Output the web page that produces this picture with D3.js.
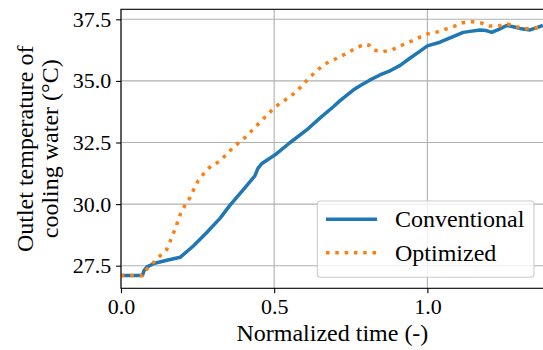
<!DOCTYPE html>
<meta charset="utf-8">
<style>
    body { margin: 0; background: #fff; }
    svg text { font-family: 'Liberation Serif', 'Times New Roman', serif; fill: #000; }
</style>
<svg width="543" height="350"></svg>
<script src="https://cdn.jsdelivr.net/npm/d3@7"></script>
<script>
    // values
    var convX = [0, 0.07, 0.075, 0.085, 0.11, 0.15, 0.193, 0.236, 0.28, 0.323, 0.356, 0.40, 0.437, 0.447, 0.46, 0.503, 0.55, 0.606, 0.65, 0.693, 0.715, 0.758, 0.78, 0.813, 0.845, 0.88, 0.911, 0.943, 0.975, 1.0, 1.041, 1.08, 1.117, 1.145, 1.172, 1.19, 1.21, 1.235, 1.259, 1.28, 1.302, 1.335, 1.355, 1.377];
    var convY = [27.1, 27.1, 27.3, 27.45, 27.6, 27.72, 27.84, 28.3, 28.85, 29.42, 29.96, 30.6, 31.15, 31.45, 31.65, 32.0, 32.48, 33.01, 33.5, 33.95, 34.2, 34.63, 34.8, 35.04, 35.24, 35.42, 35.63, 35.92, 36.2, 36.42, 36.57, 36.78, 36.97, 37.02, 37.07, 37.05, 36.97, 37.1, 37.25, 37.2, 37.13, 37.07, 37.15, 37.25];

    var optX = [0, 0.07, 0.075, 0.085, 0.105, 0.127, 0.149, 0.162, 0.173, 0.184, 0.195, 0.209, 0.225, 0.238, 0.252, 0.271, 0.294, 0.320, 0.342, 0.363, 0.386, 0.41, 0.432, 0.454, 0.476, 0.497, 0.522, 0.548, 0.571, 0.593, 0.614, 0.636, 0.66, 0.688, 0.715, 0.742, 0.769, 0.796, 0.81, 0.824, 0.854, 0.883, 0.911, 0.94, 0.968, 0.998, 1.028, 1.057, 1.085, 1.115, 1.145, 1.174, 1.202, 1.231, 1.261, 1.291, 1.321, 1.35, 1.377];
    var optY = [27.1, 27.1, 27.25, 27.37, 27.62, 27.89, 28.16, 28.54, 28.88, 29.25, 29.63, 29.96, 30.26, 30.61, 30.95, 31.25, 31.55, 31.72, 31.99, 32.26, 32.51, 32.76, 33.05, 33.33, 33.6, 33.87, 34.12, 34.32, 34.55, 34.83, 35.13, 35.37, 35.65, 35.82, 35.98, 36.16, 36.35, 36.49, 36.45, 36.25, 36.19, 36.25, 36.42, 36.57, 36.73, 36.9, 36.97, 37.09, 37.2, 37.36, 37.40, 37.36, 37.23, 37.23, 37.31, 37.2, 37.12, 37.15, 37.2];

    var xTicks = [0, 0.5, 1.0];
    var yTicks = [27.5, 30.0, 32.5, 35.0, 37.5];
    var seriesNames = ["Conventional", "Optimized"];

    var svg = d3.select("svg"),
        mLeft = 121, mTop = 9.3, mRight = 543.8, mBottom = 288.3;

    var x = d3.scaleLinear().domain([0, 1.38]).range([mLeft, mRight]);
    var y = d3.scaleLinear().domain([26.583, 37.906]).range([mBottom, mTop]);

    // grid
    var grid = svg.append("g").attr("stroke", "#b0b0b0").attr("stroke-width", 1.1);
    grid.selectAll("line.gx").data(xTicks).enter().append("line")
        .attr("x1", function (d) { return x(d); }).attr("x2", function (d) { return x(d); })
        .attr("y1", mTop).attr("y2", mBottom);
    grid.selectAll("line.gy").data(yTicks).enter().append("line")
        .attr("x1", mLeft).attr("x2", mRight)
        .attr("y1", function (d) { return y(d); }).attr("y2", function (d) { return y(d); });

    svg.append("clipPath").attr("id", "clip")
        .append("rect").attr("x", mLeft).attr("y", mTop).attr("width", mRight - mLeft).attr("height", mBottom - mTop);

    var line = d3.line()
        .x(function (d) { return x(d[0]); })
        .y(function (d) { return y(d[1]); });

    var plot = svg.append("g").attr("clip-path", "url(#clip)");

    plot.append("path")
        .datum(d3.zip(convX, convY))
        .attr("d", line)
        .attr("fill", "none")
        .attr("stroke", "#1f77b4")
        .attr("stroke-width", 3.5)
        .attr("stroke-linejoin", "round");

    plot.append("path")
        .datum(d3.zip(optX, optY))
        .attr("d", line)
        .attr("fill", "none")
        .attr("stroke", "#ff7f0e")
        .attr("stroke-width", 3.5)
        .attr("stroke-dasharray", "3.5,5.8");

    // axes
    var xAxis = svg.append("g")
        .attr("transform", "translate(0," + mBottom + ")")
        .call(d3.axisBottom(x).tickValues(xTicks).tickFormat(d3.format(".1f")).tickSize(4.9).tickPadding(4.9));
    var yAxis = svg.append("g")
        .attr("transform", "translate(" + mLeft + ",0)")
        .call(d3.axisLeft(y).tickValues(yTicks).tickFormat(d3.format(".1f")).tickSize(4.9).tickPadding(4.9));

    [xAxis, yAxis].forEach(function (a) {
        a.attr("font-family", null).attr("font-size", null);
        a.select(".domain").remove();
        a.selectAll("line").attr("stroke", "#000").attr("stroke-width", 1.1);
        a.selectAll("text").attr("font-size", 22);
    });

    // spines
    svg.append("rect")
        .attr("x", mLeft).attr("y", mTop)
        .attr("width", mRight - mLeft).attr("height", mBottom - mTop)
        .attr("fill", "none").attr("stroke", "#000").attr("stroke-width", 1.1);

    // labels
    svg.append("text")
        .attr("x", (mLeft + mRight) / 2).attr("y", 341)
        .attr("text-anchor", "middle").attr("font-size", 24)
        .text("Normalized time (-)");

    var yl = svg.append("text")
        .attr("transform", "translate(0," + (mTop + mBottom) / 2 + ") rotate(-90)")
        .attr("text-anchor", "middle").attr("font-size", 24);
    yl.append("tspan").attr("x", 0).attr("y", 33).text("Outlet temperature of");
    yl.append("tspan").attr("x", 0).attr("y", 57.5).text("cooling water (°C)");

    // legend
    var lg = svg.append("g");
    lg.append("rect")
        .attr("x", 317.3).attr("y", 201).attr("width", 216.7).attr("height", 76.3)
        .attr("rx", 3)
        .attr("fill", "#fff").attr("fill-opacity", 0.8)
        .attr("stroke", "#cccccc").attr("stroke-width", 1.1);
    var items = lg.selectAll("g.item").data(seriesNames).enter().append("g")
        .attr("transform", function (d, i) { return "translate(0," + (i * 33.5) + ")"; });
    items.append("line")
        .attr("x1", 326).attr("x2", 377).attr("y1", 219.3).attr("y2", 219.3)
        .attr("stroke", function (d, i) { return i ? "#ff7f0e" : "#1f77b4"; })
        .attr("stroke-width", 3.5)
        .attr("stroke-dasharray", function (d, i) { return i ? "3.5,5.8" : null; });
    items.append("text")
        .attr("x", 395).attr("y", 227)
        .attr("font-size", 24)
        .text(function (d) { return d; });
</script>
